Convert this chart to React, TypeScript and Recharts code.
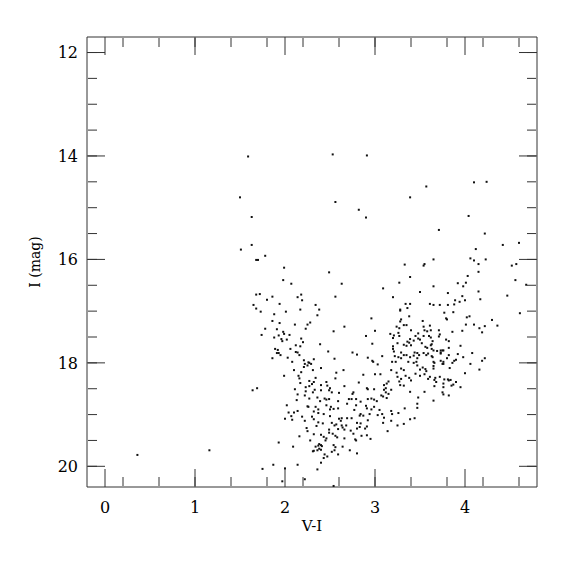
import React from 'react';
import { ScatterChart, Scatter, XAxis, YAxis } from 'recharts';

const FONT = '"DejaVu Serif", serif';
const AXIS_COLOR = '#333';

const xMajorTicks = [0, 1, 2, 3, 4];
const xMinorTicks = [0, 0.2, 0.4, 0.6, 0.8, 1, 1.2, 1.4, 1.6, 1.8, 2, 2.2, 2.4, 2.6, 2.8, 3, 3.2, 3.4, 3.6, 3.8, 4, 4.2, 4.4, 4.6];
const yMajorTicks = [12, 14, 16, 18, 20];
const yMinorTicks = [12, 12.5, 13, 13.5, 14, 14.5, 15, 15.5, 16, 16.5, 17, 17.5, 18, 18.5, 19, 19.5, 20];

// [V-I, I]
const outliers: number[][] = [[0.36, 19.78], [1.16, 19.69]];

const upperBlue: number[][] = [
  [1.59, 14.01], [1.50, 14.80], [1.63, 15.18], [1.63, 15.72], [1.51, 15.81], [1.68, 16.01], [1.70, 16.01], [1.78, 15.93],
  [1.99, 16.16], [2.49, 16.25], [1.98, 16.40], [2.07, 16.47], [1.68, 16.68], [1.72, 16.67], [1.86, 16.72], [1.80, 16.78],
  [2.14, 16.73], [2.18, 16.68], [2.19, 16.79], [1.94, 16.86], [1.65, 16.88], [1.68, 16.95], [1.73, 17.01], [1.88, 17.06],
  [2.01, 17.01], [2.17, 16.97], [2.34, 16.88], [2.38, 16.97], [2.36, 17.08],
];

const upperMid: number[][] = [
  [2.53, 13.97], [2.91, 13.99], [3.57, 14.59], [3.39, 14.80], [2.56, 14.89], [2.82, 15.04], [2.90, 15.19], [3.33, 16.10],
  [3.55, 16.09], [3.54, 16.12], [3.39, 16.34], [2.63, 16.47], [3.27, 16.45], [3.09, 16.56], [3.50, 16.63], [2.56, 16.72],
  [3.20, 16.73], [3.34, 16.86], [3.39, 16.86], [3.36, 16.94], [3.28, 16.97], [3.28, 16.99], [3.38, 17.10], [2.96, 17.14],
];

const upperRed: number[][] = [
  [4.10, 14.51], [4.24, 14.50], [4.04, 15.16], [3.71, 15.43], [4.22, 15.50], [4.42, 15.72], [4.60, 15.68], [4.12, 15.80],
  [3.65, 16.00], [4.06, 15.98], [4.10, 16.02], [4.23, 16.00], [4.15, 16.09], [4.52, 16.12], [4.57, 16.09], [4.15, 16.24],
  [4.03, 16.32], [4.56, 16.40], [4.68, 16.49], [3.92, 16.46], [4.01, 16.45], [3.98, 16.52], [3.65, 16.52], [4.15, 16.62],
  [4.47, 16.70], [3.81, 16.65], [3.97, 16.71], [4.17, 16.77], [3.89, 16.79], [4.00, 16.79], [3.94, 16.82], [3.61, 16.86],
  [3.65, 16.88], [3.72, 16.88], [3.81, 16.88], [3.88, 16.87], [3.77, 17.03], [3.87, 17.02], [4.61, 17.04], [3.79, 17.14],
  [4.02, 17.12], [4.05, 17.10],
];

const lowerBlue: number[][] = [
  [1.86, 17.19], [1.94, 17.23], [2.11, 17.26], [2.25, 17.26], [2.28, 17.22], [2.23, 17.34], [1.78, 17.34], [1.91, 17.35],
  [1.98, 17.40], [1.99, 17.44], [1.74, 17.46], [1.93, 17.47], [2.05, 17.46], [1.88, 17.51], [1.96, 17.54], [2.02, 17.55],
  [1.97, 17.58], [2.18, 17.53], [2.20, 17.60], [2.12, 17.66], [2.39, 17.64], [2.17, 17.68], [1.89, 17.73], [1.92, 17.75],
  [2.06, 17.73], [1.91, 17.81], [1.93, 17.81], [1.95, 17.85], [2.12, 17.79], [2.14, 17.80], [2.16, 17.85], [2.48, 17.78],
  [1.86, 17.91], [2.03, 17.90], [2.21, 17.95], [2.08, 17.98], [2.26, 17.99], [2.27, 18.00], [2.29, 18.02], [2.22, 18.02],
  [2.25, 18.05], [2.32, 17.93], [2.21, 18.08], [2.40, 18.10], [2.10, 18.14], [2.18, 18.18], [2.31, 18.14], [2.15, 18.25],
  [2.16, 18.30], [1.99, 18.25], [2.34, 18.29], [2.27, 18.35], [2.32, 18.37], [2.46, 18.37], [2.17, 18.39], [2.30, 18.41],
  [2.47, 18.44], [2.27, 18.45], [2.40, 18.43], [2.23, 18.47], [1.69, 18.49], [1.64, 18.53], [2.11, 18.51], [2.23, 18.55],
  [2.33, 18.52], [2.40, 18.53], [2.49, 18.53], [2.14, 18.61], [2.22, 18.63], [2.31, 18.57], [2.27, 18.69], [2.36, 18.67],
  [2.44, 18.69], [2.46, 18.71], [2.49, 18.70], [2.13, 18.72], [2.39, 18.74], [2.26, 18.85], [2.25, 18.84], [2.34, 18.85],
  [2.46, 18.82], [2.02, 18.82], [2.50, 18.90], [2.37, 18.90], [2.32, 18.94], [2.04, 18.96], [2.10, 18.96], [2.14, 18.93],
  [2.37, 18.97], [2.43, 18.99], [2.07, 19.03], [2.19, 19.04], [2.30, 19.04], [2.50, 19.03], [2.00, 19.08], [2.08, 19.10],
  [2.22, 19.12], [2.32, 19.09], [2.37, 19.15], [2.42, 19.17], [2.35, 19.22], [2.24, 19.26], [2.25, 19.32], [2.49, 19.29],
  [2.49, 19.35], [2.16, 19.42], [2.40, 19.39], [2.43, 19.43], [2.32, 19.38], [2.46, 19.46], [2.45, 19.50], [2.28, 19.50],
  [1.93, 19.54], [2.38, 19.57], [2.37, 19.60], [2.40, 19.59], [2.41, 19.61], [2.34, 19.62], [2.09, 19.62], [2.38, 19.66],
  [2.32, 19.70], [2.36, 19.69], [2.40, 19.68], [2.31, 19.71], [2.44, 19.77], [2.47, 19.81], [2.43, 19.84], [2.40, 19.93],
  [1.87, 19.97], [1.75, 20.05], [2.14, 19.97], [2.36, 20.06], [2.00, 20.04], [2.22, 20.25], [1.97, 20.29],
];

const lowerMid: number[][] = [
  [3.29, 17.16], [2.54, 17.39], [2.66, 17.30], [3.00, 17.38], [2.90, 17.48], [2.97, 17.63], [3.17, 17.44], [3.21, 17.47],
  [3.26, 17.42], [3.27, 17.48], [3.20, 17.52], [3.28, 17.20], [3.32, 17.27], [3.35, 17.27], [3.24, 17.30], [3.27, 17.33],
  [3.40, 17.37], [3.53, 17.19], [3.54, 17.30], [3.55, 17.37], [3.58, 17.39], [3.45, 17.48], [3.48, 17.43], [3.39, 17.54],
  [3.54, 17.48], [3.60, 17.48], [3.25, 17.62], [3.20, 17.68], [3.20, 17.73], [3.21, 17.78], [3.22, 17.87], [3.36, 17.59],
  [3.38, 17.61], [3.40, 17.66], [3.32, 17.65], [3.35, 17.67], [3.43, 17.57], [3.48, 17.53], [3.50, 17.55], [3.52, 17.62],
  [3.56, 17.69], [3.58, 17.71], [2.75, 17.80], [2.80, 17.84], [2.55, 17.92], [2.92, 17.90], [2.97, 17.96], [2.98, 17.98],
  [3.08, 17.87], [3.03, 18.03], [3.19, 17.98], [3.23, 17.98], [3.29, 17.80], [3.32, 17.85], [3.35, 17.85], [3.26, 17.89],
  [3.29, 17.91], [3.39, 17.89], [3.43, 17.86], [3.44, 17.80], [3.47, 17.81], [3.49, 17.85], [3.47, 17.91], [3.54, 17.81],
  [3.57, 17.85], [3.59, 17.82], [3.37, 17.98], [3.43, 18.00], [3.46, 17.98], [3.47, 18.05], [3.50, 18.13], [3.53, 18.09],
  [3.56, 18.12], [3.57, 18.16], [3.29, 18.11], [3.32, 18.14], [3.18, 18.14], [2.65, 18.14], [2.57, 18.19], [2.56, 18.30],
  [2.87, 18.23], [3.00, 18.22], [3.06, 18.22], [3.24, 18.19], [3.25, 18.27], [3.29, 18.31], [3.34, 18.25], [3.38, 18.29],
  [3.45, 18.21], [3.50, 18.25], [3.55, 18.22], [3.59, 18.31], [3.40, 18.34], [3.27, 18.36], [3.28, 18.43], [3.32, 18.44],
  [2.82, 18.38], [3.15, 18.36], [3.13, 18.40], [3.10, 18.43], [2.66, 18.45], [2.50, 18.49], [2.92, 18.51], [2.91, 18.49],
  [2.99, 18.51], [3.10, 18.52], [3.12, 18.49], [3.18, 18.52], [3.39, 18.56], [3.55, 18.56], [2.52, 18.57], [2.60, 18.58],
  [2.76, 18.57], [2.75, 18.60], [3.12, 18.57], [3.15, 18.60], [3.09, 18.65], [3.07, 18.63], [3.13, 18.68], [2.71, 18.70],
  [2.74, 18.70], [2.79, 18.70], [2.69, 18.79], [2.59, 18.74], [2.84, 18.75], [2.92, 18.70], [2.96, 18.69], [2.99, 18.71],
  [2.90, 18.83], [2.91, 18.88], [3.02, 18.74], [3.48, 18.67], [3.47, 18.79], [3.47, 18.87], [3.33, 18.88], [2.51, 18.85],
  [2.54, 18.89], [2.79, 18.82], [2.77, 18.91], [2.59, 18.88], [2.99, 18.85], [2.96, 18.90], [3.05, 18.91], [3.08, 18.99],
  [3.18, 18.93], [3.19, 18.99], [2.84, 18.99], [2.83, 19.02], [2.87, 19.02], [2.94, 18.99], [3.03, 19.01], [3.10, 19.06],
  [3.26, 18.97], [3.39, 19.09], [3.44, 19.07], [3.32, 19.18], [3.25, 19.21], [3.18, 19.12], [3.09, 19.16], [3.14, 19.32],
  [2.63, 19.07], [2.60, 19.08], [2.69, 19.07], [2.74, 19.07], [2.62, 19.12], [2.52, 19.16], [2.55, 19.21], [2.57, 19.19],
  [2.63, 19.21], [2.68, 19.21], [2.64, 19.25], [2.66, 19.29], [2.80, 19.16], [2.84, 19.17], [2.83, 19.24], [2.89, 19.27],
  [2.91, 19.23], [2.92, 19.11], [2.80, 19.27], [2.76, 19.37], [2.73, 19.31], [2.59, 19.28], [2.56, 19.41], [2.58, 19.44],
  [2.53, 19.37], [2.78, 19.48], [2.79, 19.50], [2.85, 19.41], [2.91, 19.40], [2.95, 19.47], [2.66, 19.46], [2.54, 19.59],
  [2.56, 19.63], [2.64, 19.62], [2.52, 19.72], [2.55, 19.69], [2.59, 19.77], [2.72, 19.69], [2.80, 19.75], [2.54, 20.38],
];

const lowerRed: number[][] = [
  [3.80, 17.16], [4.30, 17.17], [4.01, 17.26], [4.10, 17.26], [4.16, 17.33], [4.22, 17.29], [4.36, 17.28], [4.19, 17.41],
  [3.97, 17.38], [3.86, 17.40], [3.61, 17.28], [3.62, 17.37], [3.71, 17.37], [3.72, 17.45], [3.71, 17.49], [3.62, 17.51],
  [3.79, 17.55], [3.82, 17.58], [3.64, 17.58], [3.63, 17.64], [3.62, 17.66], [3.95, 17.67], [3.82, 17.71], [3.63, 17.73],
  [3.65, 17.76], [3.69, 17.77], [3.73, 17.76], [3.75, 17.76], [3.76, 17.76], [3.73, 17.80], [3.73, 17.82], [3.82, 17.85],
  [3.92, 17.83], [4.08, 17.81], [3.63, 17.87], [3.64, 17.89], [3.98, 17.89], [3.80, 17.91], [3.90, 17.94], [3.88, 17.96],
  [3.73, 17.96], [3.76, 17.98], [3.76, 18.02], [3.75, 18.02], [3.86, 18.00], [3.65, 17.98], [3.66, 18.00], [3.65, 18.06],
  [3.65, 18.11], [4.22, 17.91], [4.19, 17.96], [4.06, 18.02], [3.83, 18.10], [4.16, 18.13], [4.00, 18.20], [3.61, 18.27],
  [3.67, 18.29], [3.66, 18.33], [3.68, 18.37], [3.72, 18.27], [3.77, 18.32], [3.81, 18.32], [3.82, 18.34], [3.84, 18.33],
  [3.90, 18.37], [3.76, 18.40], [3.76, 18.47], [3.66, 18.45], [3.85, 18.44], [3.87, 18.42], [3.95, 18.47], [3.75, 18.57],
  [3.76, 18.61], [3.82, 18.63], [3.65, 18.73],
];

const stars = [...outliers, ...upperBlue, ...upperMid, ...upperRed, ...lowerBlue, ...lowerMid, ...lowerRed].map(
  ([x, y]) => ({ x, y })
);

const X_DOMAIN: [number, number] = [-0.2, 4.8];
const Y_DOMAIN: [number, number] = [11.7, 20.4];

const Dot = (props: any) => {
  const { cx, cy } = props;
  if (cx == null || cy == null) return null;
  return <rect x={cx - 1} y={cy - 1} width={2} height={2} fill="#111" />;
};

const NoDot = () => null;
const NoTick = () => <g />;

const lineStyle = { stroke: AXIS_COLOR, strokeWidth: 1 };

export default function App() {
  return (
    <div style={{ width: 560, height: 560 }}>
      <ScatterChart width={560} height={560} margin={{ top: 29, right: 31, bottom: 0, left: 0 }}>
        {/* bottom: labels */}
        <XAxis
          xAxisId="b"
          type="number"
          dataKey="x"
          domain={X_DOMAIN}
          allowDataOverflow
          ticks={xMajorTicks}
          orientation="bottom"
          height={81}
          tickSize={5}
          tickMargin={10}
          tickLine={false}
          axisLine={false}
          tick={{ fontFamily: FONT, fontSize: 16, fill: '#000' }}
          label={(p: any) => {
            const vb = p.viewBox || { x: 79, y: 479, width: 450, height: 81 };
            return (
              <text
                x={vb.x + vb.width / 2}
                y={vb.y + 38.5}
                textAnchor="middle"
                dominantBaseline="central"
                fontFamily={FONT}
                fontSize={15}
                fill="#000"
              >
                V-I
              </text>
            );
          }}
        />
        <XAxis xAxisId="bMaj" type="number" dataKey="x" domain={X_DOMAIN} allowDataOverflow ticks={xMajorTicks} orientation="bottom" mirror height={1} tick={<NoTick />} tickSize={18} tickLine={lineStyle} axisLine={lineStyle} />
        <XAxis xAxisId="bMin" type="number" dataKey="x" domain={X_DOMAIN} allowDataOverflow ticks={xMinorTicks} orientation="bottom" mirror height={1} tick={<NoTick />} tickSize={9} tickLine={lineStyle} axisLine={false} />
        <XAxis xAxisId="tMaj" type="number" dataKey="x" domain={X_DOMAIN} allowDataOverflow ticks={xMajorTicks} orientation="top" mirror height={1} tick={<NoTick />} tickSize={18} tickLine={lineStyle} axisLine={lineStyle} />
        <XAxis xAxisId="tMin" type="number" dataKey="x" domain={X_DOMAIN} allowDataOverflow ticks={xMinorTicks} orientation="top" mirror height={1} tick={<NoTick />} tickSize={9} tickLine={lineStyle} axisLine={false} />

        {/* left: labels */}
        <YAxis
          yAxisId="l"
          type="number"
          dataKey="y"
          domain={Y_DOMAIN}
          allowDataOverflow
          reversed
          ticks={yMajorTicks}
          orientation="left"
          width={79}
          tickSize={4}
          tickMargin={5}
          tickLine={false}
          axisLine={false}
          tick={{ fontFamily: FONT, fontSize: 16, fill: '#000' }}
          label={(p: any) => {
            const vb = p.viewBox || { x: 0, y: 29, width: 79, height: 450 };
            const cx = vb.x + 27;
            const cy = vb.y + vb.height / 2;
            return (
              <text
                x={cx}
                y={cy}
                transform={`rotate(-90 ${cx} ${cy})`}
                textAnchor="middle"
                dominantBaseline="central"
                fontFamily={FONT}
                fontSize={14}
                fill="#000"
              >
                I (mag)
              </text>
            );
          }}
        />
        <YAxis yAxisId="lMaj" type="number" dataKey="y" domain={Y_DOMAIN} allowDataOverflow reversed ticks={yMajorTicks} orientation="left" mirror width={1} tick={<NoTick />} tickSize={18} tickLine={lineStyle} axisLine={lineStyle} />
        <YAxis yAxisId="lMin" type="number" dataKey="y" domain={Y_DOMAIN} allowDataOverflow reversed ticks={yMinorTicks} orientation="left" mirror width={1} tick={<NoTick />} tickSize={9} tickLine={lineStyle} axisLine={false} />
        <YAxis yAxisId="rMaj" type="number" dataKey="y" domain={Y_DOMAIN} allowDataOverflow reversed ticks={yMajorTicks} orientation="right" mirror width={1} tick={<NoTick />} tickSize={18} tickLine={lineStyle} axisLine={lineStyle} />
        <YAxis yAxisId="rMin" type="number" dataKey="y" domain={Y_DOMAIN} allowDataOverflow reversed ticks={yMinorTicks} orientation="right" mirror width={1} tick={<NoTick />} tickSize={9} tickLine={lineStyle} axisLine={false} />

        {/* invisible series binding the frame axes */}
        <Scatter xAxisId="bMaj" yAxisId="lMaj" data={stars} dataKey="y" shape={<NoDot />} isAnimationActive={false} />
        <Scatter xAxisId="bMin" yAxisId="lMin" data={stars} dataKey="y" shape={<NoDot />} isAnimationActive={false} />
        <Scatter xAxisId="tMaj" yAxisId="rMaj" data={stars} dataKey="y" shape={<NoDot />} isAnimationActive={false} />
        <Scatter xAxisId="tMin" yAxisId="rMin" data={stars} dataKey="y" shape={<NoDot />} isAnimationActive={false} />

        <Scatter
          xAxisId="b"
          yAxisId="l"
          data={stars}
          dataKey="y"
          shape={<Dot />}
          isAnimationActive={false}
        />
      </ScatterChart>
    </div>
  );
}
